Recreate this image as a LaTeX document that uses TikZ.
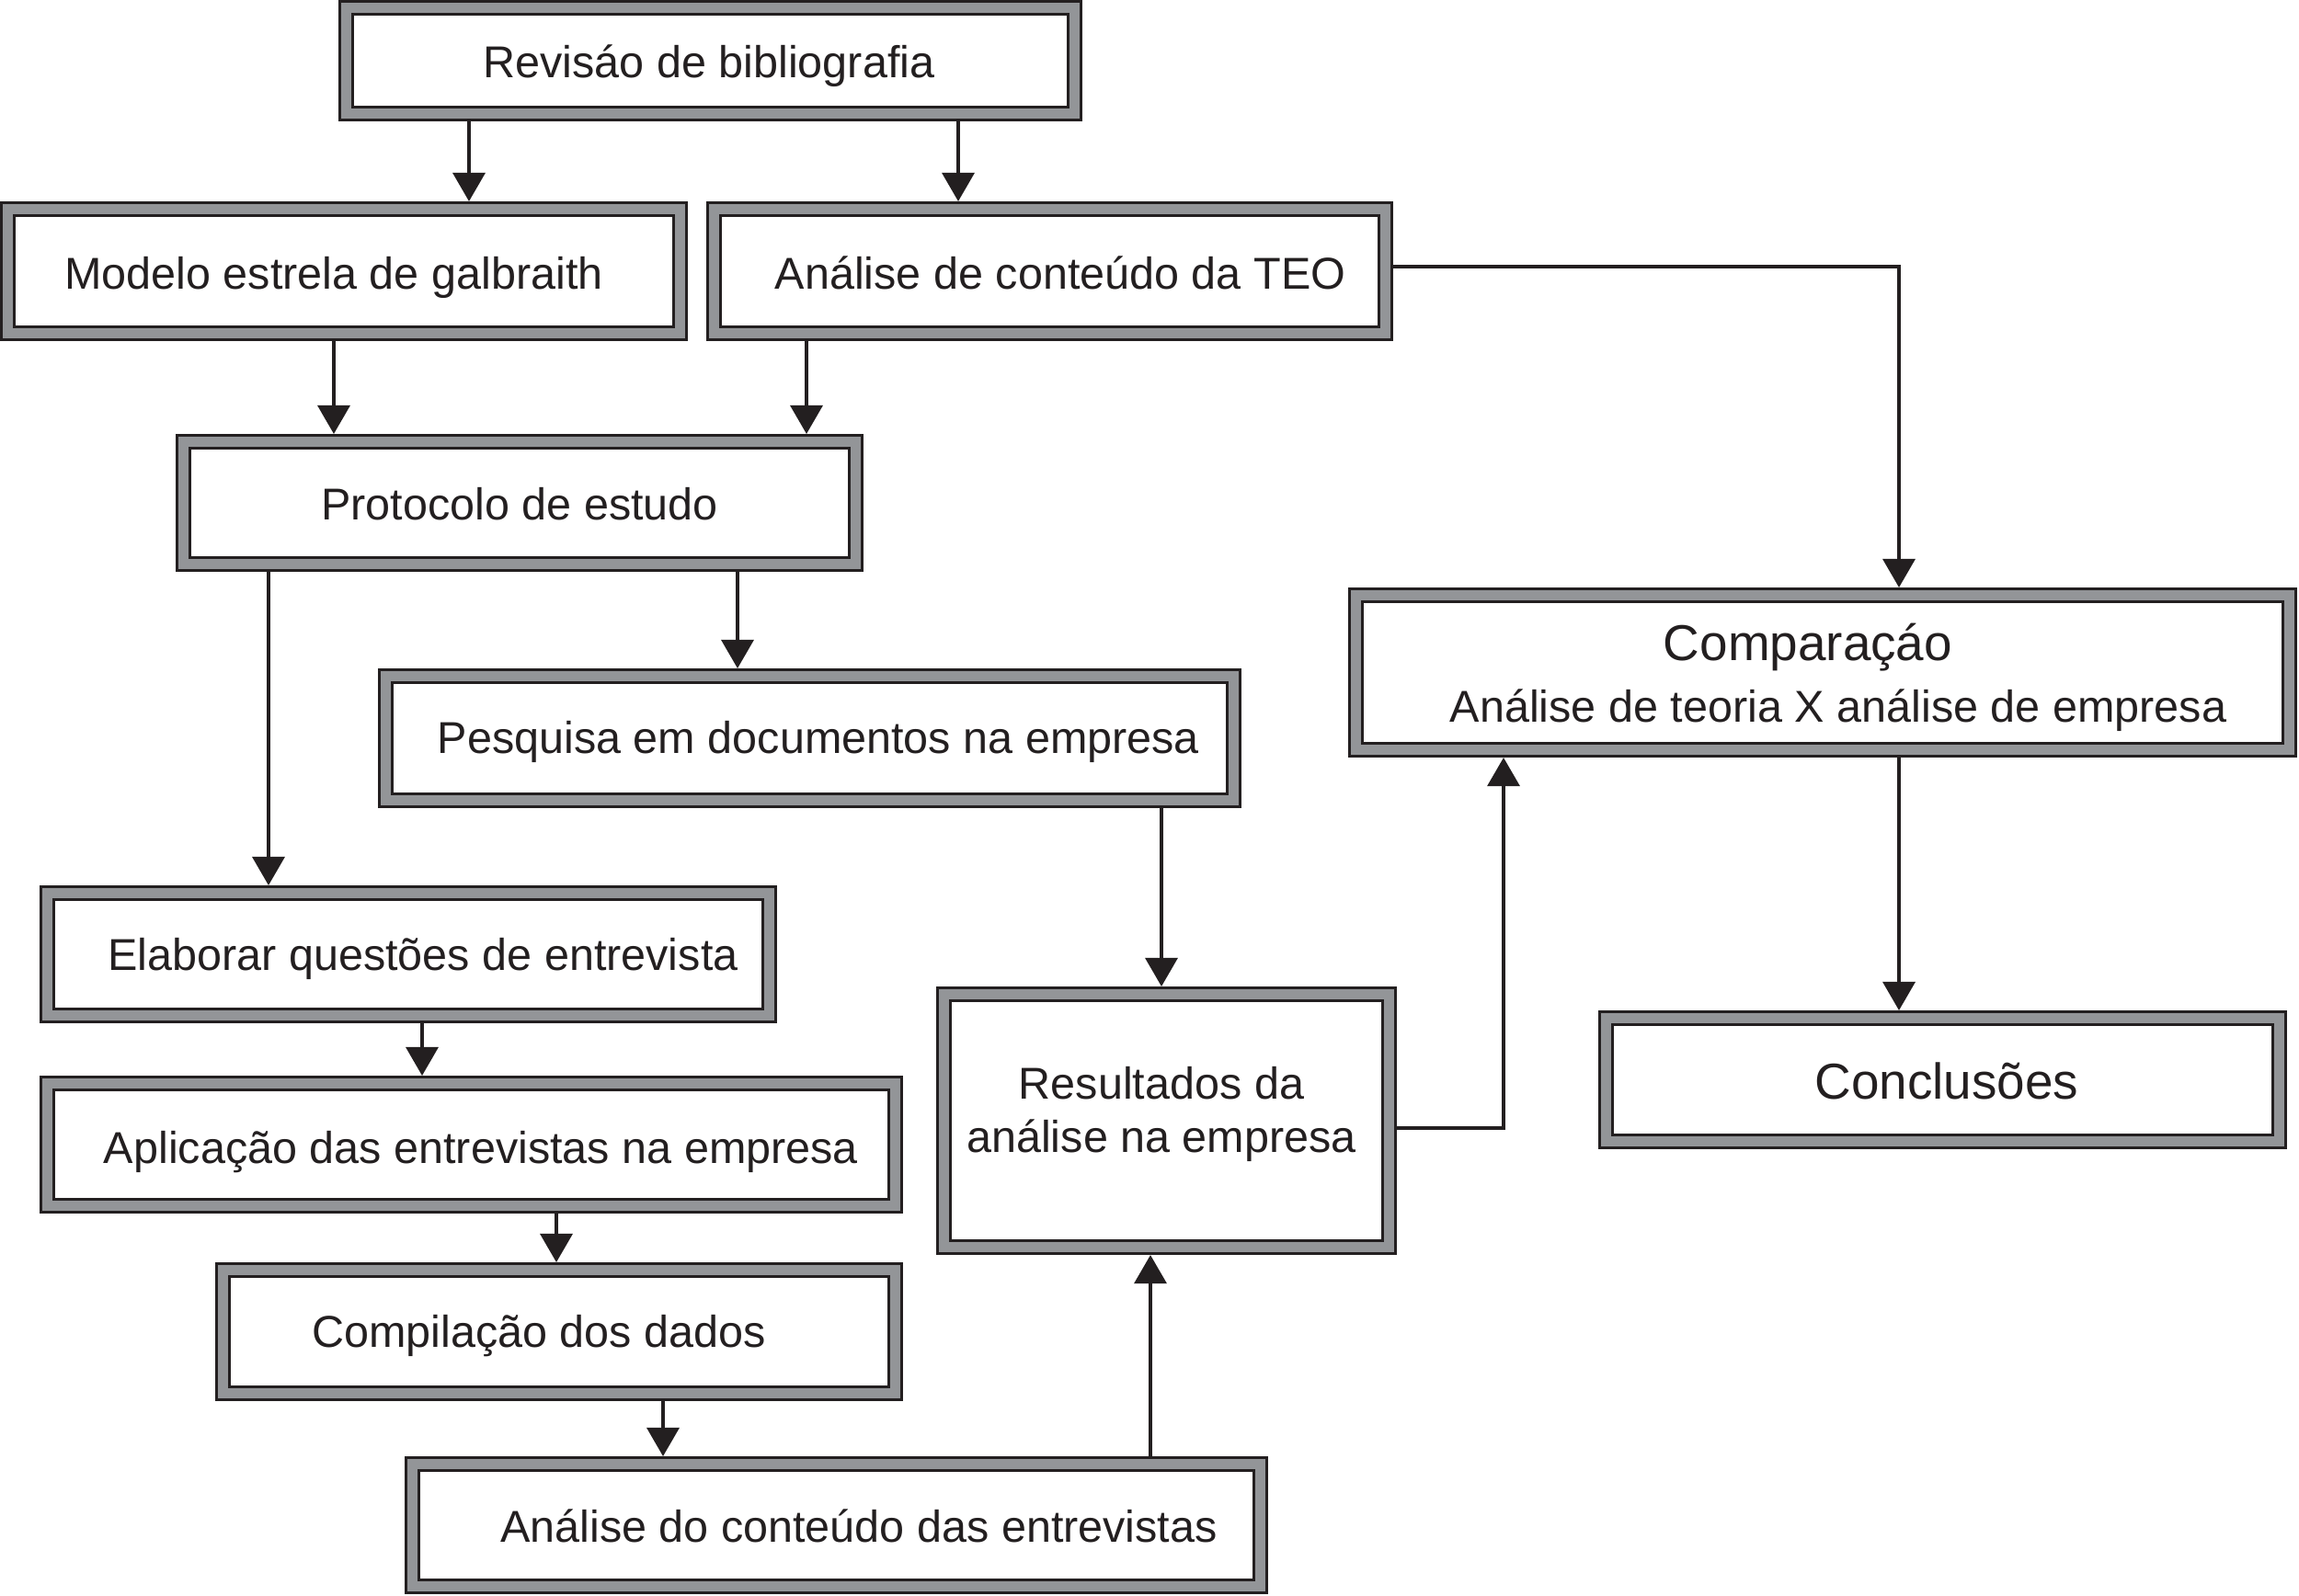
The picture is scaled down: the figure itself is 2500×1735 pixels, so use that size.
\documentclass[tikz,border=0pt]{standalone}
\usepackage{fontspec}
\setmainfont{Liberation Sans}
\usetikzlibrary{arrows.meta}
\definecolor{band}{RGB}{147,149,152}
\definecolor{ink}{RGB}{35,31,32}
\tikzset{
  box/.style={draw=ink, line width=0.03cm, double=band, double distance=0.11cm,
    fill=white, rectangle, inner sep=0pt, outer sep=0.085cm},
  txt/.style={anchor=base, inner sep=0pt, text=ink, font=\fontsize{13.8}{16.5}\selectfont},
  bigtxt/.style={anchor=base, inner sep=0pt, text=ink, font=\fontsize{15.6}{18}\selectfont},
  arr/.style={draw=ink, line width=0.033cm, -{Triangle[width=0.35cm,length=0.31cm]}},
  ln/.style={draw=ink, line width=0.033cm}
}
\begin{document}
\begin{tikzpicture}[x=0.01cm, y=-0.01cm]
\useasboundingbox (0,0) rectangle (2500,1735);
% boxes
\node[box, minimum width=7.92cm, minimum height=1.15cm] (rev) at (772.5,66) {};
\node[box, minimum width=7.31cm, minimum height=1.35cm] (mod) at (374,295) {};
\node[box, minimum width=7.30cm, minimum height=1.35cm] (teo) at (1141.5,295) {};
\node[box, minimum width=7.31cm, minimum height=1.33cm] (pro) at (565,547) {};
\node[box, minimum width=9.22cm, minimum height=1.35cm] (pes) at (880.5,803) {};
\node[box, minimum width=10.15cm, minimum height=1.68cm] (comp) at (1982,731.5) {};
\node[box, minimum width=7.85cm, minimum height=1.33cm] (ela) at (444,1038) {};
\node[box, minimum width=9.22cm, minimum height=1.33cm] (apl) at (512.5,1245) {};
\node[box, minimum width=7.31cm, minimum height=1.34cm] (cpl) at (608,1448.5) {};
\node[box, minimum width=9.22cm, minimum height=1.33cm] (ana) at (909.5,1659) {};
\node[box, minimum width=4.84cm, minimum height=2.75cm] (res) at (1268.5,1219) {};
\node[box, minimum width=7.32cm, minimum height=1.34cm] (con) at (2112.5,1174.5) {};
% texts
\node[txt] (trev) at (771,84) {Revisáo de bibliografia};
\node[txt] (tmod) at (363,314) {Modelo estrela de galbraith};
\node[txt] (tteo) at (1153,314) {Análise de conteúdo da TEO};
\node[txt] (tpro) at (565,565) {Protocolo de estudo};
\node[txt] (tpes) at (890,819) {Pesquisa em documentos na empresa};
\node[bigtxt] (tcomp1) at (1966,718) {Comparaçáo};
\node[txt] (tcomp2) at (1999,785) {Análise de teoria X análise de empresa};
\node[txt] (tela) at (460,1055) {Elaborar questões de entrevista};
\node[txt] (tapl) at (523,1265) {Aplicação das entrevistas na empresa};
\node[txt] (tcpl) at (586,1465) {Compilação dos dados};
\node[txt] (tana) at (934,1677) {Análise do conteúdo das entrevistas};
\node[txt] (tres1) at (1263,1195) {Resultados da};
\node[txt] (tres2) at (1263,1253) {análise na empresa};
\node[bigtxt] (tcon) at (2117,1195) {Conclusões};
% connectors
\draw[arr] (rev.south -| 510,0) -- (mod.north -| 510,0);
\draw[arr] (rev.south -| 1042,0) -- (teo.north -| 1042,0);
\draw[arr] (mod.south -| 363,0) -- (pro.north -| 363,0);
\draw[arr] (teo.south -| 877,0) -- (pro.north -| 877,0);
\draw[arr] (teo.east |- 0,290) -| (comp.north -| 2065,0);
\draw[arr] (pro.south -| 292,0) -- (ela.north -| 292,0);
\draw[arr] (pro.south -| 802,0) -- (pes.north -| 802,0);
\draw[arr] (pes.south -| 1263,0) -- (res.north -| 1263,0);
\draw[arr] (ela.south -| 459,0) -- (apl.north -| 459,0);
\draw[arr] (apl.south -| 605,0) -- (cpl.north -| 605,0);
\draw[arr] (cpl.south -| 721,0) -- (ana.north -| 721,0);
\draw[arr] (ana.north -| 1251,0) -- (res.south -| 1251,0);
\draw[arr] (res.east |- 0,1227) -| (comp.south -| 1635,0);
\draw[arr] (comp.south -| 2065,0) -- (con.north -| 2065,0);
\end{tikzpicture}
\end{document}
